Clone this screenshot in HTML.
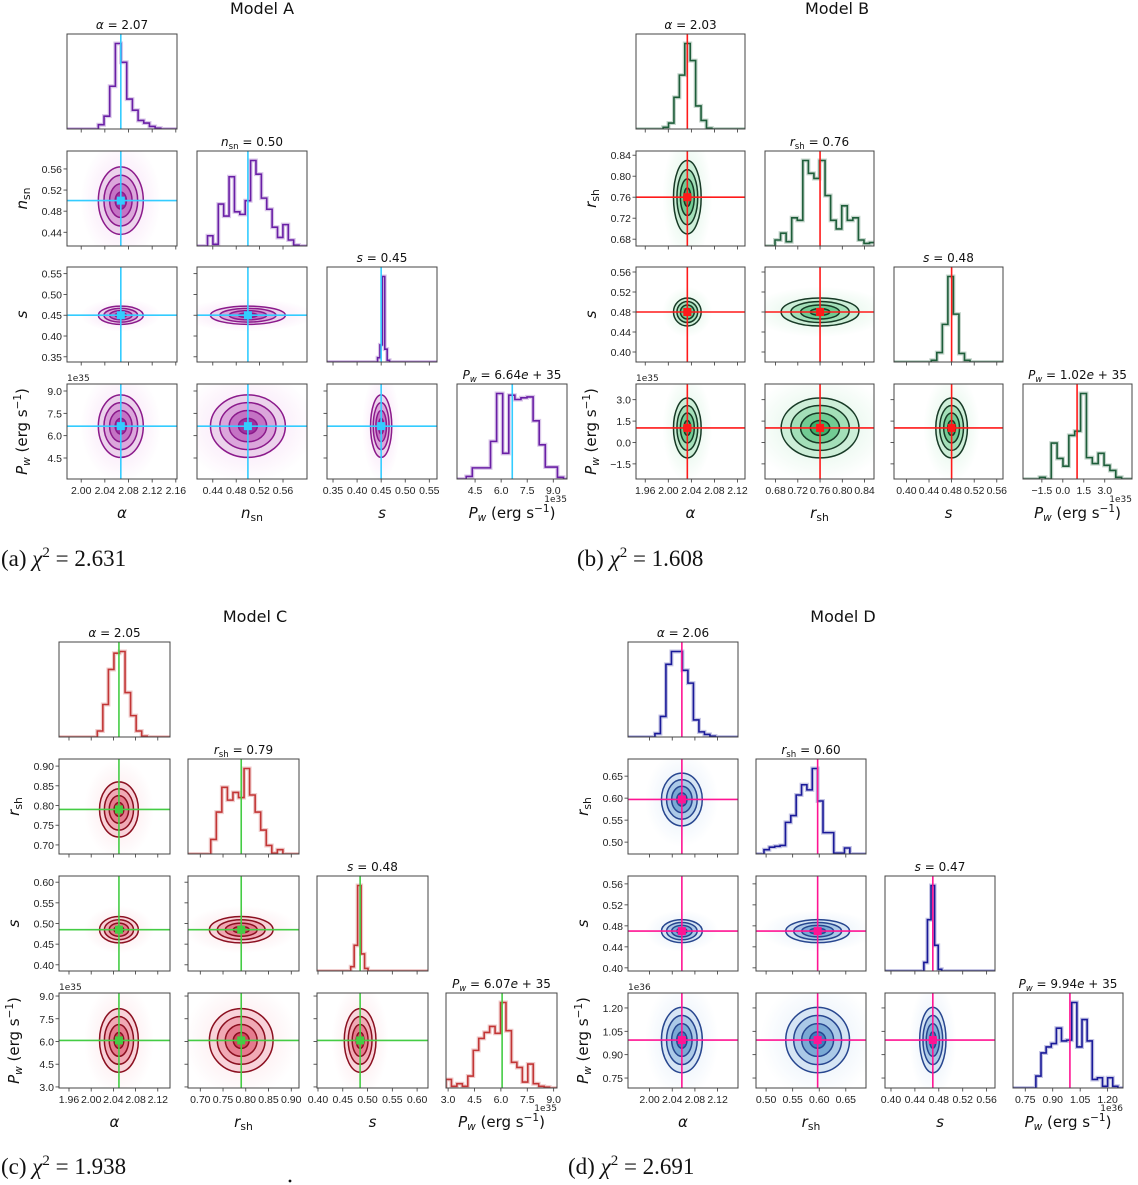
<!DOCTYPE html>
<html><head><meta charset="utf-8"><style>
html,body{margin:0;padding:0;background:#fff;}
svg{display:block;font-family:"DejaVu Sans","Liberation Sans",sans-serif;}
</style></head><body>
<svg id="fig" width="1138" height="1185" viewBox="0 0 1138 1185" xmlns="http://www.w3.org/2000/svg"></svg>
<script>
// ---------- Model A data ----------
const A_truth = [2.067, 0.50, 0.45, 6.64];
const A_sigma = [0.019, 0.032, 0.011, 1.05];
const A_xr = [[1.976,2.162],[0.413,0.601],[0.3375,0.566],[3.46,9.79]];
const A_yr = [[1.976,2.162],[0.414,0.594],[0.3375,0.566],[3.09,9.47]];
const A_ticks = [[2.00,2.04,2.08,2.12,2.16],[0.44,0.48,0.52,0.56],[0.35,0.40,0.45,0.50,0.55],[4.5,6.0,7.5,9.0]];
const A_histStart = [2.029, 0.431, 0.4425, 3.99];
const A_histWidth = [0.0096, 0.0092, 0.005, 0.35];
const A_hist0 = [0.05,0.15,0.5,1.0,0.78,0.35,0.22,0.1,0.07,0.03,0.01];
const A_hist1 = [0.12,0.02,0.49,0.35,0.81,0.40,0.37,0.53,1.0,0.84,0.56,0.43,0.22,0.1,0.25,0.07,0.01];
const A_hist2 = [0.05,0.2,1.0,0.15,0.02];
const A_hist3 = [0.03,0.13,0.13,0.13,0.44,1.0,0.30,0.98,0.93,0.95,0.96,0.68,0.4,0.14,0.14,0.02];
const A_titles = ['2.07','0.50','0.45','6.64'];
// ---------- Model B data ----------
const B_truth = [2.033, 0.76, 0.48, 1.02];
const B_sigma = [0.012, 0.035, 0.014, 1.05];
const B_xr = [[1.944,2.133],[0.661,0.857],[0.378,0.571],[-2.85,4.95]];
const B_yr = [[1.944,2.133],[0.667,0.848],[0.38,0.57],[-2.56,4.1]];
const B_ticks = [[1.96,2.00,2.04,2.08,2.12],[0.68,0.72,0.76,0.80,0.84],[0.40,0.44,0.48,0.52,0.56],[-1.5,0.0,1.5,3.0]];
const B_histStart = [1.991, 0.679, 0.444, -1.67];
const B_histWidth = [0.0094, 0.01, 0.0098, 0.42];
const B_hist0 = [0.02,0.07,0.37,0.63,1.0,0.8,0.27,0.1,0.01];
const B_hist1 = [0.07,0.15,0.05,0.33,0.3,1.0,0.85,0.79,1.0,0.59,0.3,0.2,0.47,0.3,0.33,0.07,0.03,0.04];
const B_hist2 = [0.02,0.11,0.44,1.0,0.56,0.1,0.02];
const B_hist3 = [0.02,0.0,0.42,0.24,0.15,0.51,0.56,1.0,0.25,0.18,0.3,0.16,0.1,0.02];
const B_titles = ['2.03','0.76','0.48','1.02'];
// ---------- Model C data ----------
const C_truth = [2.05, 0.79, 0.485, 6.07];
const C_sigma = [0.0175, 0.035, 0.016, 1.05];
const C_xr = [[1.942,2.142],[0.673,0.917],[0.398,0.622],[2.88,9.19]];
const C_yr = [[1.942,2.142],[0.677,0.918],[0.385,0.615],[2.93,9.2]];
const C_ticks = [[1.96,2.00,2.04,2.08,2.12],[0.70,0.75,0.80,0.85,0.90],[0.40,0.45,0.50,0.55,0.60],[3.0,4.5,6.0,7.5,9.0]];
const C_histStart = [2.011, 0.723, 0.466, 2.88];
const C_histWidth = [0.01, 0.0122, 0.007, 0.31];
const C_hist0 = [0.07,0.38,0.79,0.98,1.0,0.52,0.25,0.07,0.01];
const C_hist1 = [0.17,0.49,0.78,0.63,0.72,0.66,1.0,0.69,0.49,0.28,0.1,0.01,0.05];
const C_hist2 = [0.05,0.3,1.0,0.2,0.03];
const C_hist3 = [0.1,0.02,0.05,0.02,0.14,0.44,0.58,0.65,0.72,0.64,1.0,0.67,0.3,0.24,0.07,0.28,0.05,0.02,0.01];
const C_titles = ['2.05','0.79','0.48','6.07'];
// ---------- Model D data ----------
const D_truth = [2.057, 0.597, 0.47, 0.994];
const D_sigma = [0.018, 0.03, 0.011, 0.105];
const D_xr = [[1.962,2.156],[0.481,0.688],[0.390,0.574],[0.683,1.284]];
const D_yr = [[1.962,2.156],[0.473,0.689],[0.394,0.575],[0.686,1.296]];
const D_ticks = [[2.00,2.04,2.08,2.12],[0.50,0.55,0.60,0.65],[0.40,0.44,0.48,0.52,0.56],[0.75,0.90,1.05,1.20]];
const D_histStart = [2.0095, 0.496, 0.455, 0.808];
const D_histWidth = [0.0097, 0.0101, 0.006, 0.028];
const D_hist0 = [0.04,0.24,0.85,1.0,1.0,0.78,0.63,0.2,0.06,0.03,0.01];
const D_hist1 = [0.05,0.08,0.09,0.1,0.37,0.45,0.69,0.81,0.75,1.0,0.62,0.25,0.25,0.01,0.01,0.07,0.0];
const D_hist2 = [0.1,0.6,1.0,0.3,0.02];
const D_hist3 = [0.14,0.41,0.48,0.52,0.7,0.55,0.56,1.0,0.48,0.8,0.55,0.1,0.12,0.02,0.12,0.02];
const D_titles = ['2.06','0.60','0.47','9.94'];

const DEC = [2,2,2,1];
const DEC_D = [2,2,2,2];

const P_ALPHA = '<tspan font-style="italic">α</tspan>';
const P_NSN = '<tspan font-style="italic">n</tspan><tspan font-size="0.72em" dy="3">sn</tspan><tspan dy="-3">';
const P_RSH = '<tspan font-style="italic">r</tspan><tspan font-size="0.72em" dy="3">sh</tspan><tspan dy="-3">';
const P_S = '<tspan font-style="italic">s</tspan>';
const P_PW = '<tspan font-style="italic">P</tspan><tspan font-size="0.7em" dy="3" font-style="italic">w</tspan><tspan dy="-3">';

const models = [
 {key:'a', name:'Model A', tx:262, ty:14, cols:[67,197,327,457], rows:[34,151,267,384], w:110, h:95,
  truth:A_truth, sigma:A_sigma, xr:A_xr, yr:A_yr, ticks:A_ticks, dec:DEC, hs:A_histStart, hw:A_histWidth, hists:[A_hist0,A_hist1,A_hist2,A_hist3], titles:A_titles,
  second:'nsn', exp:'1e35', hist:'#6a1fa6', line:'#8b1a8b', fills:['#ecd3ec','#dba6db','#c473c4','#a0309f'], haze:'#e9a6e6', truthC:'#33ccff',
  cap:'(a)', chi:'2.631', capx:1, capy:566},
 {key:'b', name:'Model B', tx:837, ty:14, cols:[636,765,894,1023], rows:[34,151,267,384], w:109, h:95,
  truth:B_truth, sigma:B_sigma, xr:B_xr, yr:B_yr, ticks:B_ticks, dec:DEC, hs:B_histStart, hw:B_histWidth, hists:[B_hist0,B_hist1,B_hist2,B_hist3], titles:B_titles,
  second:'rsh', exp:'1e35', hist:'#1e5e3a', line:'#173a26', fills:['#cdeed8','#a3dfb8','#72cb93','#3daf68'], haze:'#9ee0b4', truthC:'#ff1a1a',
  cap:'(b)', chi:'1.608', capx:577, capy:566},
 {key:'c', name:'Model C', tx:255, ty:622, cols:[59,188,317,446], rows:[642,759,876,993], w:111, h:95,
  truth:C_truth, sigma:C_sigma, xr:C_xr, yr:C_yr, ticks:C_ticks, dec:DEC, hs:C_histStart, hw:C_histWidth, hists:[C_hist0,C_hist1,C_hist2,C_hist3], titles:C_titles,
  second:'rsh', exp:'1e35', hist:'#c23636', line:'#8b1020', fills:['#f8d3da','#f0a9b5','#e57b8e','#d5445f'], haze:'#f6b6c2', truthC:'#44cc44',
  cap:'(c)', chi:'1.938', capx:1, capy:1174},
 {key:'d', name:'Model D', tx:843, ty:622, cols:[628,756,885,1013], rows:[642,759,876,993], w:110, h:95,
  truth:D_truth, sigma:D_sigma, xr:D_xr, yr:D_yr, ticks:D_ticks, dec:DEC_D, hs:D_histStart, hw:D_histWidth, hists:[D_hist0,D_hist1,D_hist2,D_hist3], titles:D_titles,
  second:'rsh', exp:'1e36', hist:'#1a1a99', line:'#27468f', fills:['#d6e5f4','#abc9e7','#7aa9d4','#3f7ebe'], haze:'#b4d0ee', truthC:'#ff1493',
  cap:'(d)', chi:'2.691', capx:568, capy:1174}
];

function fmt(v,d){ return v.toFixed(d).replace('-','−'); }
function pLabel(M,i,tail){
  tail = tail||'';
  if(i===0) return P_ALPHA+tail;
  if(i===1) return (M.second==='nsn'?P_NSN:P_RSH)+tail+'</tspan>';
  if(i===2) return P_S+tail;
  return P_PW+tail+'</tspan>';
}
const PW_AX = '<tspan font-style="italic">P</tspan><tspan font-size="0.7em" dy="3" font-style="italic">w</tspan><tspan dy="-3"> (erg s</tspan><tspan font-size="0.7em" dy="-6">−1</tspan><tspan dy="6">)</tspan>';
const TICKF = 'font-family="Liberation Sans, sans-serif" font-size="10.5"';

let S = [];
S.push('<rect x="0" y="0" width="1138" height="1185" fill="#fff"/>');
let defs = '<defs>';
models.forEach(M=>{
  defs += `<radialGradient id="haze-${M.key}"><stop offset="0" stop-color="${M.haze}" stop-opacity="0.35"/><stop offset="0.6" stop-color="${M.haze}" stop-opacity="0.15"/><stop offset="1" stop-color="${M.haze}" stop-opacity="0"/></radialGradient>`;
});

models.forEach(M=>{
  const w=M.w, h=M.h;
  S.push(`<g>`);
  S.push(`<text x="${M.tx}" y="${M.ty}" font-size="16" text-anchor="middle" fill="#111">${M.name}</text>`);
  for(let i=0;i<4;i++){
    for(let j=0;j<=i;j++){
      const x0=M.cols[j], y0=M.rows[i];
      const cid=`clip-${M.key}-${i}-${j}`;
      defs += `<clipPath id="${cid}"><rect x="${x0}" y="${y0}" width="${w}" height="${h}"/></clipPath>`;
      const xs = v => x0 + (v - M.xr[j][0])/(M.xr[j][1]-M.xr[j][0])*w;
      if(i===j){
        const c = M.hists[i], st=M.hs[i], bw=M.hw[i];
        const ys = v => y0 + h - v*0.9*h;
        let d = `M${x0},${y0+h} L${xs(st).toFixed(2)},${y0+h}`;
        c.forEach((v,k)=>{ d += ` L${xs(st+k*bw).toFixed(2)},${ys(v).toFixed(2)} L${xs(st+(k+1)*bw).toFixed(2)},${ys(v).toFixed(2)}`; });
        d += ` L${xs(st+c.length*bw).toFixed(2)},${y0+h} L${x0+w},${y0+h}`;
        S.push(`<g clip-path="url(#${cid})">`);
        S.push(`<path d="${d}" fill="none" stroke="${M.hist}" stroke-opacity="0.25" stroke-width="4"/>`);
        S.push(`<path d="${d}" fill="none" stroke="${M.hist}" stroke-width="1.6"/>`);
        const tx = xs(M.truth[i]);
        S.push(`<line x1="${tx}" y1="${y0}" x2="${tx}" y2="${y0+h}" stroke="${M.truthC}" stroke-width="1.6"/>`);
        S.push('</g>');
        let tl = (i===3) ? `<tspan font-style="italic">P</tspan><tspan font-size="0.7em" dy="3" font-style="italic">w</tspan><tspan dy="-3"> = ${M.titles[i]}<tspan font-style="italic">e</tspan> + 35</tspan>` : pLabel(M,i,' = '+M.titles[i]);
        S.push(`<text x="${x0+w/2}" y="${y0-5}" font-size="12" text-anchor="middle" fill="#111">${tl}</text>`);
      } else {
        const ys = v => y0 + h - (v - M.yr[i][0])/(M.yr[i][1]-M.yr[i][0])*h;
        const cx = xs(M.truth[j]), cy = ys(M.truth[i]);
        const sx = M.sigma[j]/(M.xr[j][1]-M.xr[j][0])*w;
        const sy = M.sigma[i]/(M.yr[i][1]-M.yr[i][0])*h;
        S.push(`<g clip-path="url(#${cid})">`);
        S.push(`<ellipse cx="${cx}" cy="${cy}" rx="${sx*3.6}" ry="${sy*3.6}" fill="url(#haze-${M.key})"/>`);
        const levels=[2.0,1.5,1.0,0.5];
        levels.forEach((k,n)=>{
          S.push(`<ellipse cx="${cx}" cy="${cy}" rx="${sx*k}" ry="${sy*k}" fill="${M.fills[n]}" stroke="${M.line}" stroke-width="1.5"/>`);
        });
        S.push(`<line x1="${x0}" y1="${cy}" x2="${x0+w}" y2="${cy}" stroke="${M.truthC}" stroke-width="1.6"/>`);
        S.push(`<line x1="${cx}" y1="${y0}" x2="${cx}" y2="${y0+h}" stroke="${M.truthC}" stroke-width="1.6"/>`);
        S.push(`<rect x="${cx-4}" y="${cy-4}" width="8" height="8" fill="${M.truthC}"/>`);
        S.push('</g>');
        M.ticks[i].forEach(t=>{
          const yy = ys(t);
          if(yy<y0-0.5||yy>y0+h+0.5) return;
          S.push(`<line x1="${x0-3.5}" y1="${yy}" x2="${x0}" y2="${yy}" stroke="#333" stroke-width="0.8"/>`);
          if(j===0) S.push(`<text x="${x0-5}" y="${yy+4}" ${TICKF} text-anchor="end" fill="#222">${fmt(t,M.dec[i])}</text>`);
        });
      }
      M.ticks[j].forEach(t=>{
        const xx = xs(t);
        if(xx<x0-0.5||xx>x0+w+0.5) return;
        S.push(`<line x1="${xx}" y1="${y0+h}" x2="${xx}" y2="${y0+h+3.5}" stroke="#333" stroke-width="0.8"/>`);
        if(i===3) S.push(`<text x="${xx}" y="${y0+h+15}" ${TICKF} text-anchor="middle" fill="#222">${fmt(t,M.dec[j])}</text>`);
      });
      S.push(`<rect x="${x0}" y="${y0}" width="${w}" height="${h}" fill="none" stroke="#444" stroke-width="1"/>`);
    }
  }
  const bx = M.cols[0]-40;
  for(let i=1;i<4;i++){
    const yc = M.rows[i]+h/2;
    const lab = (i===3)?PW_AX:pLabel(M,i,'');
    S.push(`<text transform="translate(${bx},${yc}) rotate(-90)" font-size="15" text-anchor="middle" fill="#111">${lab}</text>`);
  }
  for(let j=0;j<4;j++){
    const xc = M.cols[j]+w/2;
    const lab = (j===3)?PW_AX:pLabel(M,j,'');
    S.push(`<text x="${xc}" y="${M.rows[3]+h+39}" font-size="15" text-anchor="middle" fill="#111">${lab}</text>`);
  }
  S.push(`<text x="${M.cols[0]}" y="${M.rows[3]-3}" font-size="9" fill="#222">${M.exp}</text>`);
  S.push(`<text x="${M.cols[3]+w}" y="${M.rows[3]+h+23}" font-size="9" text-anchor="end" fill="#222">${M.exp}</text>`);
  S.push(`<text x="${M.capx}" y="${M.capy}" font-family="Liberation Serif, serif" font-size="23" fill="#111">${M.cap} <tspan font-style="italic">χ</tspan><tspan font-size="15" dy="-9">2</tspan><tspan dy="9"> = ${M.chi}</tspan></text>`);
  S.push('</g>');
});
S.push('<circle cx="290" cy="1181" r="1.4" fill="#111"/>');
defs += '</defs>';
document.getElementById('fig').innerHTML = defs + S.join('');
</script>
</body></html>
